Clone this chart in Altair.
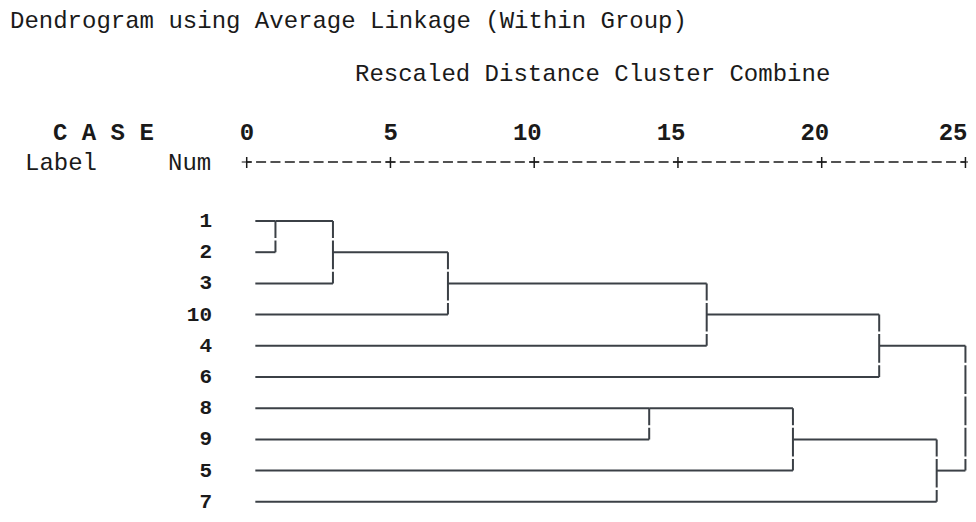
import altair as alt
import pandas as pd

# ---- data ----
case_labels = ["1", "2", "3", "10", "4", "6", "8", "9", "5", "7"]
merge_a = ["1", "1", "1", "8", "1", "8", "1", "8", "1"]
merge_b = ["2", "3", "10", "9", "4", "5", "6", "7", "8"]
merge_dist = [1, 3, 7, 14, 16, 19, 22, 24, 25]
axis_ticks = [0, 5, 10, 15, 20, 25]

title_text = "Dendrogram using Average Linkage (Within Group)"
subtitle_text = "Rescaled Distance Cluster Combine"

LEAF_START = 0.3
FONT = "Liberation Mono"
TXT = "#1a1a1a"
LINE = "#3b4046"

# ---- build dendrogram segments from the merge schedule ----
state = {c: (LEAF_START, i) for i, c in enumerate(case_labels)}
hz, vt = [], []
for a, b, d in zip(merge_a, merge_b, merge_dist):
    xa, ya = state[a]
    xb, yb = state[b]
    hz.append({"x": xa, "x2": d, "y": ya})
    hz.append({"x": xb, "x2": d, "y": yb})
    vt.append({"x": d, "y": min(ya, yb), "y2": max(ya, yb)})
    state[a] = (d, (ya + yb) // 2)
    del state[b]

hz_df = pd.DataFrame(hz)
vt_df = pd.DataFrame(vt)
rows_df = pd.DataFrame({"label": case_labels, "row": list(range(len(case_labels)))})
ticks_df = pd.DataFrame({"t": axis_ticks, "lab": [str(t) for t in axis_ticks]})
axis_df = pd.DataFrame({"x": [axis_ticks[0]], "x2": [axis_ticks[-1]]})

W, H = 960, 506
ROW_PX = 31.2
xs = alt.Scale(domain=[-8.303, 25.089], nice=False, zero=False)
ys = alt.Scale(domain=[-213 / ROW_PX, (H - 213) / ROW_PX], nice=False, zero=False, reverse=True)

X = lambda f: alt.X(f, type="quantitative", scale=xs, axis=None)
Y = lambda f: alt.Y(f, type="quantitative", scale=ys, axis=None)

horiz = alt.Chart(hz_df).mark_rule(color=LINE, strokeWidth=2).encode(
    x=X("x"), x2="x2", y=Y("y")
)
vert = alt.Chart(vt_df).mark_rule(
    color=LINE, strokeWidth=2, strokeDash=[ROW_PX - 2.5, 2.5], strokeDashOffset=ROW_PX - 2.5 - 17
).encode(x=X("x"), y=Y("y"), y2="y2")

row_labels = alt.Chart(rows_df).mark_text(
    font=FONT, fontSize=21, fontWeight="bold", color=TXT, align="right", baseline="middle"
).encode(x=alt.value(204), y=Y("row"), text="label")

axis_line = alt.Chart(axis_df).mark_rule(
    color=TXT, strokeWidth=1.5, strokeDash=[10, 4.375], strokeDashOffset=5
).encode(x=X("x"), x2="x2", y=alt.value(154))

tick_marks = alt.Chart(ticks_df).mark_rule(color=TXT, strokeWidth=1.5).encode(
    x=X("t"), y=alt.value(149), y2=alt.value(160)
)
tick_h = alt.Chart(ticks_df).mark_tick(
    color=TXT, thickness=1.5, size=10, orient="horizontal"
).encode(x=X("t"), y=alt.value(154))

tick_labels_inner = alt.Chart(ticks_df.iloc[:-1]).mark_text(
    font=FONT, fontSize=24, fontWeight="bold", color=TXT, align="right", baseline="alphabetic", dx=7.5
).encode(x=X("t"), y=alt.value(132), text="lab")
tick_label_last = alt.Chart(ticks_df.iloc[-1:]).mark_text(
    font=FONT, fontSize=24, fontWeight="bold", color=TXT, align="right", baseline="alphabetic", dx=2
).encode(x=X("t"), y=alt.value(132), text="lab")


def txt(s, x, y, weight="normal"):
    return alt.Chart(pd.DataFrame({"s": [s]})).mark_text(
        font=FONT, fontSize=24, fontWeight=weight, color=TXT, align="left", baseline="alphabetic"
    ).encode(x=alt.value(x), y=alt.value(y), text="s")


chart = alt.layer(
    horiz, vert, row_labels, axis_line, tick_marks, tick_h, tick_labels_inner, tick_label_last,
    txt(title_text, 2, 20),
    txt(subtitle_text, 347, 73),
    txt("C A S E", 45, 132, "bold"),
    txt("Label", 17, 162),
    txt("Num", 160, 162),
).properties(
    width=W, height=H, padding=0, background="white",
    autosize=alt.AutoSizeParams(type="none"),
).configure_view(stroke=None)

chart.save("out.html", embed_options={"renderer": "svg", "actions": False})
